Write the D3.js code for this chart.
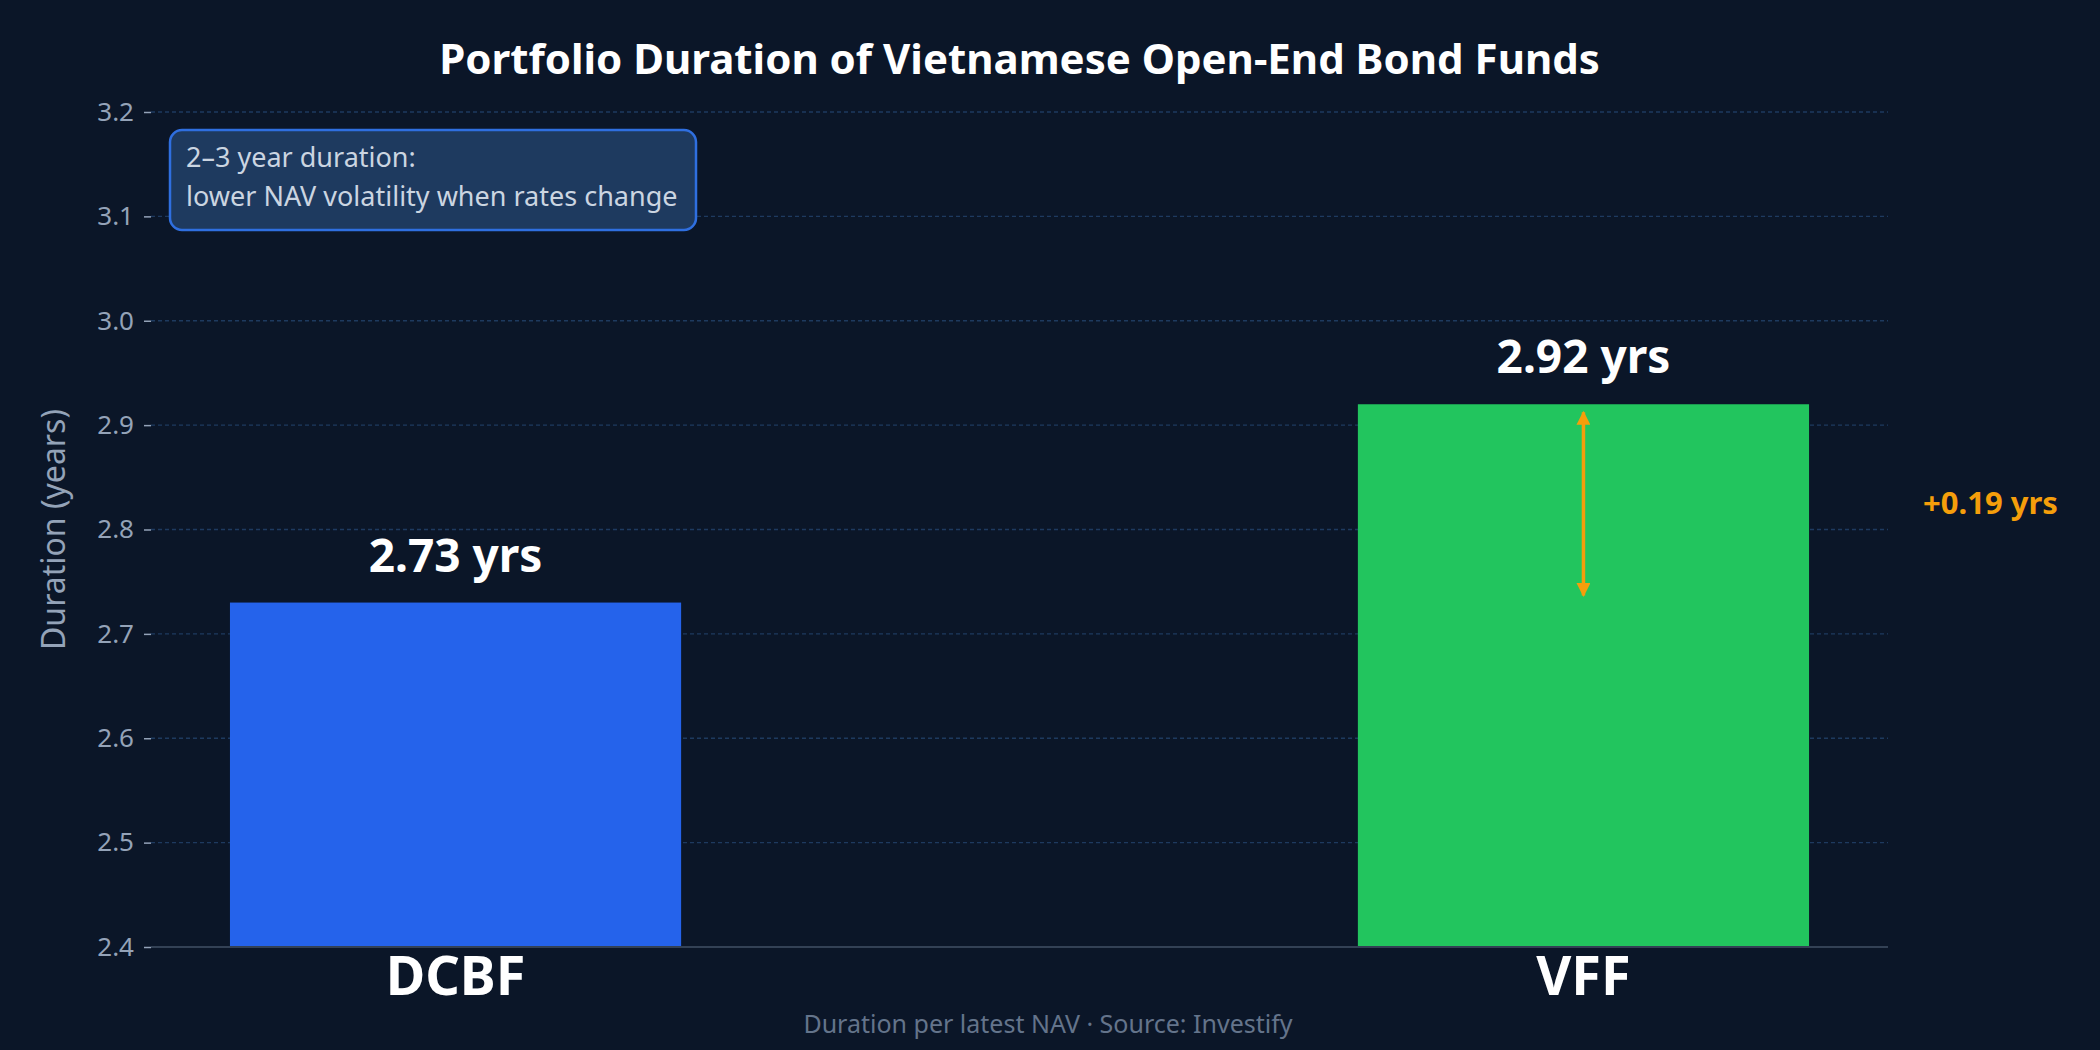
<!DOCTYPE html>
<html>
<head>
<meta charset="utf-8">
<script src="https://cdn.jsdelivr.net/npm/d3@7"></script>
<style>
  html, body { margin: 0; padding: 0; background: #0b1628; }
  svg { display: block; font-family: "Noto Sans", "Open Sans", sans-serif; }
</style>
</head>
<body>
<div id="chart"></div>
<script>
// Data
const funds = ['DCBF', 'VFF'];
const durations = [2.73, 2.92];
const barColors = ['#2563eb', '#22c55e'];
const yTicks = [2.4, 2.5, 2.6, 2.7, 2.8, 2.9, 3.0, 3.1, 3.2];
const noteLines = ['2–3 year duration:', 'lower NAV volatility when rates change'];

const W = 2100, H = 1050;
const margin = { top: 112, right: 212, bottom: 103, left: 151 };

const svg = d3.select('#chart').append('svg')
  .attr('width', W)
  .attr('height', H)
  .attr('viewBox', `0 0 ${W} ${H}`);

svg.append('rect').attr('width', W).attr('height', H).attr('fill', '#0b1628');

const x = d3.scaleBand()
  .domain(funds)
  .range([margin.left, W - margin.right])
  .paddingInner(0.6)
  .paddingOuter(0.07);

const y = d3.scaleLinear()
  .domain([2.4, 3.2])
  .range([H - margin.bottom, margin.top]);

// Gridlines
svg.append('g')
  .selectAll('line')
  .data(yTicks.slice(1))
  .join('line')
  .attr('x1', margin.left)
  .attr('x2', W - margin.right)
  .attr('y1', d => y(d))
  .attr('y2', d => y(d))
  .attr('stroke', '#1e3a5f')
  .attr('stroke-width', 1.3)
  .attr('stroke-dasharray', '4,3');

// Y axis (ticks only, no domain line)
const yAxis = svg.append('g')
  .attr('transform', `translate(${margin.left},0)`)
  .call(d3.axisLeft(y).tickValues(yTicks).tickFormat(d3.format('.1f')).tickSize(7).tickPadding(10));
yAxis.select('.domain').remove();
yAxis.selectAll('.tick line').attr('stroke', '#94a3b8').attr('stroke-width', 1.5);
yAxis.selectAll('.tick text')
  .attr('fill', '#94a3b8')
  .attr('font-size', 26)
  .attr('font-family', '"Noto Sans", sans-serif');

// Y label
svg.append('text')
  .attr('transform', `translate(65,${(y(2.4) + y(3.2)) / 2}) rotate(-90)`)
  .attr('text-anchor', 'middle')
  .attr('fill', '#94a3b8')
  .attr('font-size', 32)
  .text('Duration (years)');

// Bars
svg.append('g')
  .selectAll('rect')
  .data(funds)
  .join('rect')
  .attr('x', d => x(d))
  .attr('width', x.bandwidth())
  .attr('y', (d, i) => y(durations[i]))
  .attr('height', (d, i) => y(2.4) - y(durations[i]))
  .attr('fill', (d, i) => barColors[i]);

// X axis baseline
svg.append('line')
  .attr('x1', margin.left)
  .attr('x2', W - margin.right)
  .attr('y1', y(2.4))
  .attr('y2', y(2.4))
  .attr('stroke', '#334155')
  .attr('stroke-width', 2);

// Category labels
svg.append('g')
  .selectAll('text')
  .data(funds)
  .join('text')
  .attr('x', d => x(d) + x.bandwidth() / 2)
  .attr('y', y(2.4) + 48)
  .attr('text-anchor', 'middle')
  .attr('fill', '#ffffff')
  .attr('font-size', 54)
  .attr('font-weight', 700)
  .text(d => d);

// Value labels
svg.append('g')
  .selectAll('text')
  .data(funds)
  .join('text')
  .attr('x', d => x(d) + x.bandwidth() / 2)
  .attr('y', (d, i) => y(durations[i]) - 31)
  .attr('text-anchor', 'middle')
  .attr('fill', '#ffffff')
  .attr('font-size', 46)
  .attr('font-weight', 700)
  .text((d, i) => `${durations[i].toFixed(2)} yrs`);

// Difference arrow
const diff = durations[1] - durations[0];
const ax = x(funds[1]) + x.bandwidth() / 2;
const defs = svg.append('defs');
['start', 'end'].forEach(k => {
  defs.append('marker')
    .attr('id', `head-${k}`)
    .attr('viewBox', '0 0 10 10')
    .attr('refX', k === 'end' ? 9 : 1)
    .attr('refY', 5)
    .attr('markerWidth', 4)
    .attr('markerHeight', 4)
    .attr('markerUnits', 'strokeWidth')
    .attr('orient', 'auto')
    .append('path')
    .attr('d', k === 'end' ? 'M0,0 L10,5 L0,10 Z' : 'M10,0 L0,5 L10,10 Z')
    .attr('fill', '#f59e0b');
});
svg.append('line')
  .attr('x1', ax)
  .attr('x2', ax)
  .attr('y1', y(durations[1]) + 8)
  .attr('y2', y(durations[0]) - 7)
  .attr('stroke', '#f59e0b')
  .attr('stroke-width', 3.5)
  .attr('marker-start', 'url(#head-start)')
  .attr('marker-end', 'url(#head-end)');

svg.append('text')
  .attr('x', W - margin.right + 35)
  .attr('y', y((durations[0] + durations[1]) / 2))
  .attr('dy', '0.35em')
  .attr('fill', '#f59e0b')
  .attr('font-size', 31)
  .attr('font-weight', 700)
  .text(`+${diff.toFixed(2)} yrs`);

// Note box
const note = svg.append('g').attr('transform', 'translate(170,130)');
note.append('rect')
  .attr('width', 526)
  .attr('height', 100)
  .attr('rx', 12)
  .attr('fill', '#1e3a5f')
  .attr('stroke', '#2f6fe0')
  .attr('stroke-width', 2.5);
note.selectAll('text')
  .data(noteLines)
  .join('text')
  .attr('x', 16)
  .attr('y', (d, i) => 37 + i * 39)
  .attr('fill', '#cbd5e1')
  .attr('font-size', 27)
  .text(d => d);

// Title
svg.append('text')
  .attr('x', (margin.left + W - margin.right) / 2)
  .attr('y', 74)
  .attr('text-anchor', 'middle')
  .attr('fill', '#ffffff')
  .attr('font-size', 42)
  .attr('font-weight', 700)
  .text('Portfolio Duration of Vietnamese Open-End Bond Funds');

// Footer
svg.append('text')
  .attr('x', W / 2 - 2)
  .attr('y', 1033)
  .attr('text-anchor', 'middle')
  .attr('fill', '#64748b')
  .attr('font-size', 25)
  .text('Duration per latest NAV · Source: Investify');
</script>
</body>
</html>
